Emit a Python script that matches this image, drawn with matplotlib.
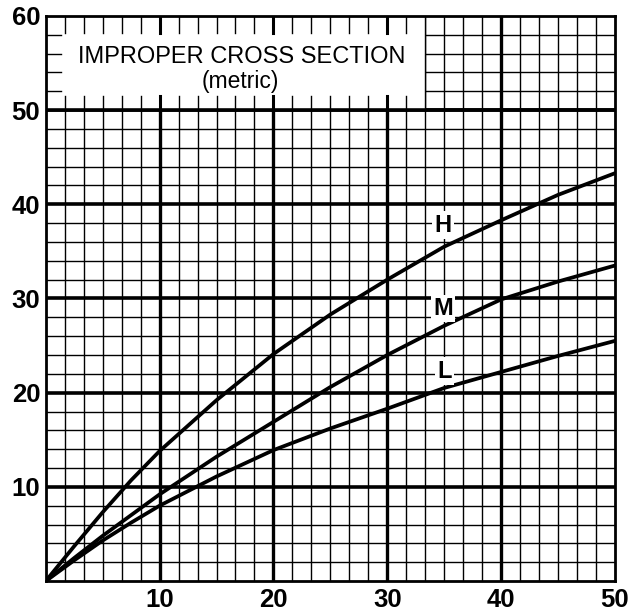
import numpy as np
import matplotlib
matplotlib.use("Agg")
import matplotlib.pyplot as plt
from matplotlib.patches import Rectangle

plt.rcParams['font.family'] = ['Liberation Sans', 'DejaVu Sans']

# Data
x_vals = [0, 2.5, 5, 7.5, 10, 15, 20, 25, 30, 35, 40, 45, 50]
H_vals = [0, 3.7, 7.3, 10.7, 13.8, 19.2, 24.1, 28.3, 32.0, 35.5, 38.3, 41.0, 43.3]
M_vals = [0, 2.45, 4.8, 7.0, 9.2, 13.2, 16.9, 20.6, 24.0, 27.1, 29.9, 31.8, 33.5]
L_vals = [0, 2.2, 4.3, 6.2, 8.0, 11.1, 13.9, 16.2, 18.3, 20.5, 22.2, 23.9, 25.5]
x_ticks = [10, 20, 30, 40, 50]
y_ticks = [10, 20, 30, 40, 50, 60]
title_main = "IMPROPER CROSS SECTION"
title_sub = "(metric)"
curve_labels = [("H", 34.9, 37.8), ("M", 34.9, 28.9), ("L", 35.0, 22.3)]

fig = plt.figure(figsize=(6.35, 6.11), dpi=100)
ax = fig.add_axes([0.072, 0.049, 0.8965, 0.925])
ax.set_xlim(0, 50)
ax.set_ylim(0, 60)

minor_x = np.arange(1, 30) * 10 / 6
minor_y = np.arange(1, 30) * 2.0
for xv in minor_x:
    major = abs(xv / 10 - round(xv / 10)) < 1e-6
    ax.axvline(xv, color='black', lw=2.4 if major else 1.0, zorder=1)
for yv in minor_y:
    major = abs(yv / 10 - round(yv / 10)) < 1e-6
    ax.axhline(yv, color='black', lw=2.6 if major else 1.0, zorder=1)

# white title box in upper-left
ax.add_patch(Rectangle((0, 50.15), 10 * 20 / 6, 9.85, facecolor='white',
                       edgecolor='none', zorder=2))
ax.plot([0, 50], [50, 50], color='black', lw=2.6, zorder=3)
for xv in minor_x:
    if xv < 33.3:
        major = abs(xv / 10 - round(xv / 10)) < 1e-6
        lw = 2.2 if major else 1.0
        ax.plot([xv, xv], [58.2, 60], color='black', lw=lw, zorder=3)
        ax.plot([xv, xv], [50, 51.5], color='black', lw=lw, zorder=3)
for yv in [52, 54, 56, 58]:
    ax.plot([0, 1.3], [yv, yv], color='black', lw=1.0, zorder=3)
ax.plot([10 * 20 / 6] * 2, [50, 60], color='black', lw=1.0, zorder=3)

ax.text(17.2, 55.6, title_main, ha='center', va='center', fontsize=17, zorder=4)
ax.text(17.1, 53.0, title_sub, ha='center', va='center', fontsize=16.5, zorder=4)

for yv in (H_vals, M_vals, L_vals):
    ax.plot(x_vals, yv, color='black', lw=2.7, zorder=5, solid_capstyle='round')

for lab, lx, ly in curve_labels:
    ax.text(lx, ly, lab, ha='center', va='center', fontsize=17, fontweight='bold',
            zorder=6, bbox=dict(facecolor='white', edgecolor='none', pad=1.5))

for s in ax.spines.values():
    s.set_linewidth(2.0)
    s.set_zorder(7)

ax.set_xticks(x_ticks)
ax.set_yticks(y_ticks)
ax.tick_params(axis='both', length=0, labelsize=18.5)
ax.tick_params(axis='y', pad=4)
ax.tick_params(axis='x', pad=5)
for lbl in ax.get_xticklabels() + ax.get_yticklabels():
    lbl.set_fontweight('bold')

fig.savefig("out.png", dpi=100)
